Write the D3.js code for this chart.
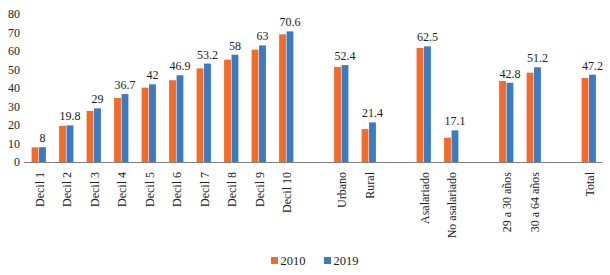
<!DOCTYPE html>
<html>
<head>
<meta charset="utf-8">
<script src="https://cdn.jsdelivr.net/npm/d3@7"></script>
<style>
  body { margin: 0; background: #fff; }
  text { font-family: "Liberation Serif", "Times New Roman", serif; fill: #222; }
</style>
</head>
<body>
<svg id="chart"></svg>
<script>
/* CONSTANTS AND GLOBALS */
const width = 610,
  height = 275,
  margin = { top: 14, bottom: 113, left: 25, right: 7.5 };

// categories, "" entries are the empty gaps between groups
const categories = ["Decil 1", "Decil 2", "Decil 3", "Decil 4", "Decil 5", "Decil 6", "Decil 7",
  "Decil 8", "Decil 9", "Decil 10", "", "Urbano", "Rural", "", "Asalariado", "No asalariado",
  "", "29 a 30 años", "30 a 64 años", "", "Total"];

const values2010 = [7.9, 19.5, 27.6, 34.6, 40.2, 44.2, 50.6, 55.3, 60.7, 69.0, null,
  51.4, 17.8, null, 61.6, 13.1, null, 43.8, 48.3, null, 45.4];
const values2019 = [8, 19.8, 29, 36.7, 42, 46.9, 53.2, 58, 63, 70.6, null,
  52.4, 21.4, null, 62.5, 17.1, null, 42.8, 51.2, null, 47.2];

const series = ["2010", "2019"];
const colors = ["#F26B2B", "#3B7BC4"];
const yTicks = [0, 10, 20, 30, 40, 50, 60, 70, 80];

const svg = d3.select("#chart")
  .attr("width", width)
  .attr("height", height);

// one slot per category, gaps get their own id
const slots = categories.map((c, i) => "s" + i);

const x0 = d3.scaleBand()
  .domain(slots)
  .range([margin.left, width - margin.right])
  .paddingInner(0.48)
  .paddingOuter(0.24);

const x1 = d3.scaleBand()
  .domain(series)
  .range([0, x0.bandwidth()])
  .paddingInner(0.08);

const y = d3.scaleLinear()
  .domain([0, 80])
  .range([height - margin.bottom, margin.top]);

// y axis, labels only
const yAxis = svg.append("g")
  .attr("transform", `translate(${margin.left - 3},0)`)
  .call(d3.axisLeft(y).tickValues(yTicks).tickSize(0).tickPadding(2));
yAxis.select(".domain").remove();
yAxis.selectAll("text").style("font-size", "12px").attr("font-family", null);

// bars
const rows = categories.map((c, i) => ({ slot: slots[i], name: c, vals: [values2010[i], values2019[i]] }))
  .filter(d => d.name !== "");

const groups = svg.append("g")
  .selectAll("g")
  .data(rows)
  .join("g")
  .attr("transform", d => `translate(${x0(d.slot)},0)`);

groups.selectAll("rect")
  .data(d => d.vals.map((v, k) => ({ key: series[k], value: v, color: colors[k] })))
  .join("rect")
  .attr("x", d => x1(d.key))
  .attr("y", d => y(d.value))
  .attr("width", x1.bandwidth())
  .attr("height", d => y(0) - y(d.value))
  .attr("fill", d => d.color);

// data labels for 2019, over the blue bar
groups.append("text")
  .attr("x", x1("2019") + x1.bandwidth() / 2)
  .attr("y", d => y(d.vals[1]) - 5)
  .attr("text-anchor", "middle")
  .style("font-size", "12px")
  .text(d => d.vals[1]);

// x axis line
svg.append("line")
  .attr("x1", margin.left - 1)
  .attr("x2", width - margin.right)
  .attr("y1", y(0) + 0.5)
  .attr("y2", y(0) + 0.5)
  .attr("stroke", "#7f7f7f")
  .attr("stroke-width", 1);

// rotated category labels
svg.append("g")
  .selectAll("text")
  .data(rows)
  .join("text")
  .attr("transform", d => `translate(${x0(d.slot) + x0.bandwidth() / 2 + 1},${y(0) + 10}) rotate(-90)`)
  .attr("dy", "0.35em")
  .attr("text-anchor", "end")
  .style("font-size", "12px")
  .text(d => d.name);

// legend
const legend = svg.append("g")
  .selectAll("g")
  .data(series)
  .join("g")
  .attr("transform", (d, i) => `translate(${271 + i * 53},257)`);

legend.append("rect")
  .attr("width", 7)
  .attr("height", 7)
  .attr("fill", (d, i) => colors[i]);

legend.append("text")
  .attr("x", 9.5)
  .attr("y", 7.5)
  .style("font-size", "12.5px")
  .text(d => d);
</script>
</body>
</html>
